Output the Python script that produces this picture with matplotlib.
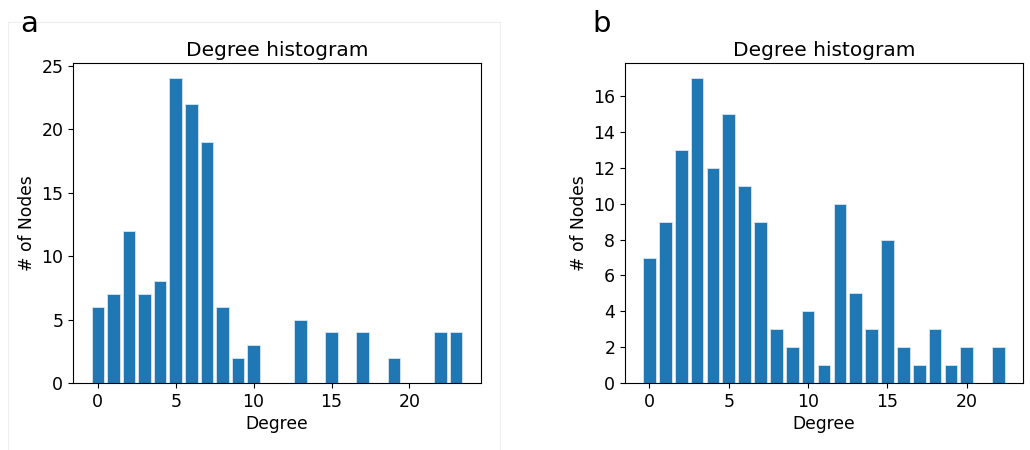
import numpy as np
import matplotlib
matplotlib.use('Agg')
import matplotlib.pyplot as plt
from matplotlib.lines import Line2D

# degree -> count
deg_a = [0, 1, 2, 3, 4, 5, 6, 7, 8, 9, 10, 13, 15, 17, 19, 22, 23]
cnt_a = [6, 7, 12, 7, 8, 24, 22, 19, 6, 2, 3, 5, 4, 4, 2, 4, 4]

deg_b = [0, 1, 2, 3, 4, 5, 6, 7, 8, 9, 10, 11, 12, 13, 14, 15, 16, 17, 18, 19, 20, 22]
cnt_b = [7, 9, 13, 17, 12, 15, 11, 9, 3, 2, 4, 1, 10, 5, 3, 8, 2, 1, 3, 1, 2, 2]

bar_color = '#1f77b4'

fig = plt.figure(figsize=(10.3, 4.5), dpi=100)
ax1 = fig.add_axes([73/1030, 1 - 383/450, 408/1030, 320/450])
ax2 = fig.add_axes([625/1030, 1 - 383/450, 398/1030, 320/450])

for ax, deg, cnt in [(ax1, deg_a, cnt_a), (ax2, deg_b, cnt_b)]:
    ax.bar(deg, cnt, width=0.80, color=bar_color, edgecolor='#d8e6f2', linewidth=0.6)
    ax.set_title('Degree histogram', fontsize=14.5, pad=5)
    ax.set_xlabel('Degree', fontsize=12.3, labelpad=3)
    ax.set_ylabel('# of Nodes', fontsize=12.3)
    ax.tick_params(labelsize=12.5)
    ax.set_xticks([0, 5, 10, 15, 20])

ax2.set_yticks(range(0, 17, 2))

fig.text(20/1030, 1 - 24/450, 'a', fontsize=21, va='center', ha='left')
fig.text(592/1030, 1 - 24/450, 'b', fontsize=21, va='center', ha='left')

# faint frame around panel a
for xs, ys in [([8, 8], [22, 450]), ([500, 500], [22, 450]), ([8, 500], [22, 22])]:
    fig.add_artist(Line2D([x/1030 for x in xs], [1 - y/450 for y in ys],
                          color='#eeeeee', linewidth=0.8))

fig.savefig('out.png', dpi=100)
